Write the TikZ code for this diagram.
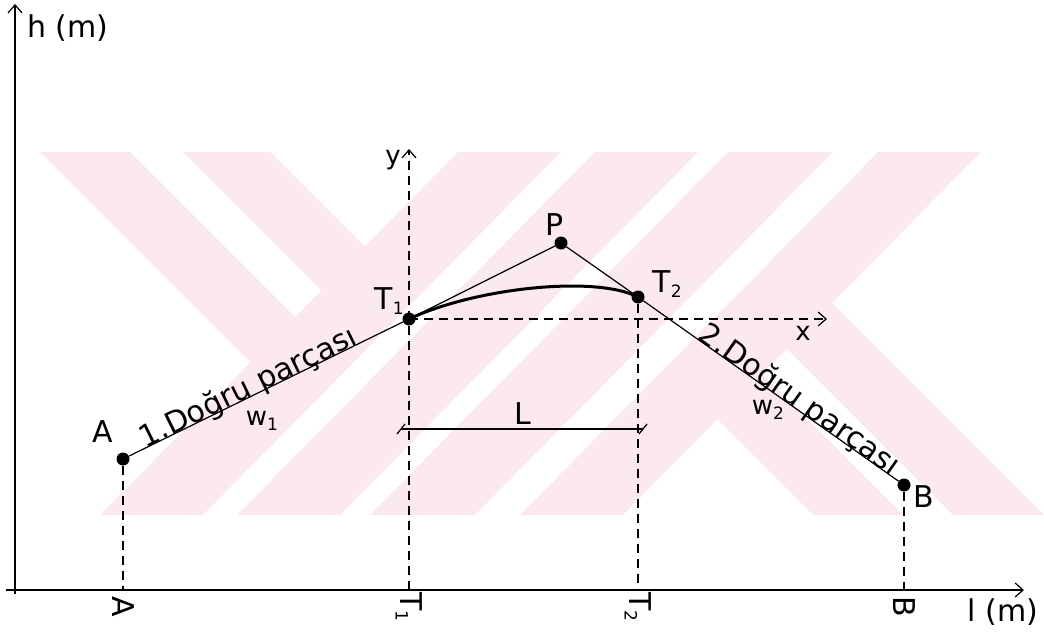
\documentclass[tikz,border=0pt]{standalone}
\usepackage{fontspec}
\setmainfont{DejaVu Sans}
\usetikzlibrary{arrows.meta}
\definecolor{wm}{RGB}{252,233,237}
\newcommand\mysub[1]{\raisebox{-0.3ex}{\fontsize{17}{17}\selectfont #1}}
\tikzset{
  dot/.style={circle,fill=black,inner sep=0pt,minimum size=13pt},
  lbl/.style={font=\fontsize{30}{30}\selectfont,inner sep=0pt},
  small/.style={font=\fontsize{26}{26}\selectfont,inner sep=0pt},
  barb/.style={-{Straight Barb[length=8pt,width=14pt,line width=1.2pt]}},
  axisline/.style={line width=1.5pt,barb},
  guide/.style={line width=1.2pt,dash pattern=on 9pt off 6pt},
  seg/.style={line width=1.2pt},
  arcline/.style={line width=3pt,line cap=round},
}
\begin{document}
\begin{tikzpicture}[x=1pt,y=-1pt]
\useasboundingbox (0,0) rectangle (1044,634);
% watermark
\begin{scope}
  \clip (0,152) rectangle (1044,515);
  \foreach \a/\b in {100/203,237/340,370/475,520/623}
    \fill[wm] (\a,515) -- (\b,515) -- (\b+358,152) -- (\a+358,152) -- cycle;
  \fill[wm] (40,152) -- (130,152) -- (305,327) -- (260,372) -- cycle;
  \fill[wm] (183,152) -- (270,152) -- (375,257) -- (331,300) -- cycle;
  \fill[wm] (813,515) -- (903,515) -- (752,364) -- (707,409) -- cycle;
  \fill[wm] (953,515) -- (1044,515) -- (822,293) -- (777,339) -- cycle;
\end{scope}
% axes
\coordinate (Hbot) at (15,594);
\coordinate (Htop) at (15,4);
\coordinate (Lstart) at (6,590);
\coordinate (Lend) at (1024,590);
\draw[axisline] (Hbot) -- (Htop);
\draw[axisline] (Lstart) -- (Lend);
\node[lbl] (hlab) at (68,28) {h (m)};
\node[lbl] (llab) at (1003,612) {l (m)};
% points
\node[dot] (A) at (123,459) {};
\node[dot] (T1) at (409,319) {};
\node[dot] (P) at (561,243) {};
\node[dot] (T2) at (638,297) {};
\node[dot] (B) at (904,485) {};
% feet
\coordinate (Afoot) at (123,590);
\coordinate (T1foot) at (409,590);
\coordinate (T2foot) at (638,590);
\coordinate (Bfoot) at (904,590);
\coordinate (ytip) at (409,149);
\coordinate (xtip) at (827,319);
% local axes
\draw[guide,barb] (T1foot) -- (ytip);
\draw[guide,barb] (T1.center) -- (xtip);
\draw[guide] (A) -- (Afoot);
\draw[guide] (T2) -- (T2foot);
\draw[guide] (B) -- (Bfoot);
% segments
\draw[seg] (A) -- (T1);
\draw[seg] (T1) -- (P);
\draw[seg] (P) -- (T2);
\draw[seg] (T2) -- (B);
\draw[arcline] (T1.center) .. controls (475,288) and (595,275) .. (T2.center);
% L dimension
\coordinate (L1) at (401,429);
\coordinate (L2) at (643,429);
\draw[seg] (L1) -- (L2);
\draw[seg] ([shift={(-4,5)}]L1) -- ([shift={(4,-5)}]L1);
\draw[seg] ([shift={(-4,5)}]L2) -- ([shift={(4,-5)}]L2);
\node[lbl] (Llab) at (523,414) {L};
% labels
\node[lbl] (Alab) at (103,432) {A};
\node[lbl] (T1lab) at (389,301) {T\mysub{1}};
\node[lbl] (Plab) at (555,225) {P};
\node[lbl] (T2lab) at (667,284) {T\mysub{2}};
\node[lbl] (Blab) at (924,497) {B};
\node[small] (ylab) at (393,160) {y};
\node[small] (xlab) at (803,333) {x};
\node[small] (w1) at (262,421) {w\mysub{1}};
\node[small] (w2) at (768,410) {w\mysub{2}};
\path (A) -- (T1) node[lbl,sloped,anchor=base,pos=0.45] (d1) {1.Doğru parçası};
\path (T2) -- (B) node[lbl,sloped,anchor=base,pos=0.59] (d2) {2.Doğru parçası};
% bottom rotated labels
\node[lbl,rotate=-90] (Ab) at (123,607) {A};
\node[lbl,rotate=-90] (T1b) at (409,607) {T\mysub{1}};
\node[lbl,rotate=-90] (T2b) at (638,607) {T\mysub{2}};
\node[lbl,rotate=-90] (Bb) at (904,607) {B};
\end{tikzpicture}
\end{document}
